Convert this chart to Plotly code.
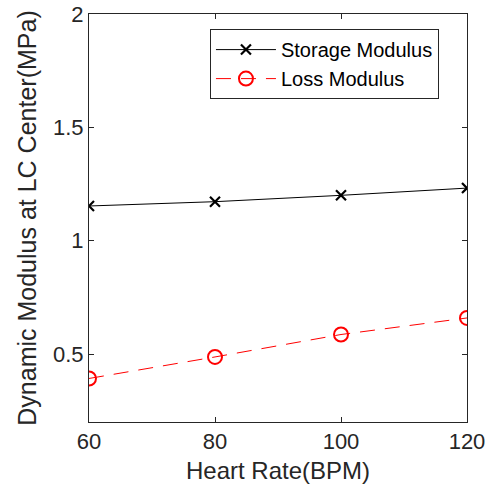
import plotly.graph_objects as go

heart_rate = [60, 80, 100, 120]
storage_modulus = [1.153, 1.172, 1.200, 1.232]
loss_modulus = [0.392, 0.487, 0.586, 0.659]
x_ticks = [60, 80, 100, 120]
y_ticks = [0.5, 1, 1.5, 2]

FONT = "Liberation Sans, Arial, sans-serif"
AX = "#262626"

fig = go.Figure()
fig.add_trace(go.Scatter(
    x=heart_rate, y=storage_modulus, name="Storage Modulus",
    mode="lines+markers",
    line=dict(color="black", width=1),
    marker=dict(symbol="x-thin-open", size=10, color="black",
                line=dict(color="black", width=2.2)),
))
fig.add_trace(go.Scatter(
    x=heart_rate, y=loss_modulus, name="Loss Modulus",
    mode="lines+markers",
    line=dict(color="red", width=1, dash="15px,10px"),
    marker=dict(symbol="circle-open", size=14, color="red",
                line=dict(color="red", width=2)),
))

axis_common = dict(
    showgrid=False, zeroline=False, showline=True, mirror="ticks",
    linecolor=AX, linewidth=1, ticks="inside", ticklen=5, tickcolor=AX,
    tickfont=dict(family=FONT, size=22, color=AX), automargin=False,
)
fig.update_xaxes(range=[60, 120], tickvals=x_ticks,
                 title=dict(text="Heart Rate(BPM)", font=dict(family=FONT, size=24, color=AX), standoff=8),
                 **axis_common)
fig.update_yaxes(range=[0.2, 2], tickvals=y_ticks, ticktext=["0.5", "1", "1.5", "2"],
                 title=dict(text="Dynamic Modulus at LC Center(MPa)", font=dict(family=FONT, size=25, color=AX), standoff=9),
                 **axis_common)

fig.update_layout(
    width=491, height=497,
    margin=dict(l=89, r=24, t=14, b=75),
    paper_bgcolor="white", plot_bgcolor="white",
    font=dict(family=FONT, color=AX),
    legend=dict(
        x=0.32, y=0.963, xanchor="left", yanchor="top",
        bordercolor=AX, borderwidth=1, bgcolor="white",
        font=dict(family=FONT, size=20, color="black"),
        itemwidth=60, tracegroupgap=0,
    ),
)

fig.write_html("out.html")
